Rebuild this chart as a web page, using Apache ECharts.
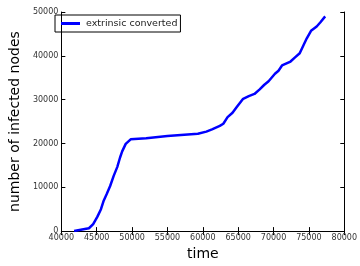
<!DOCTYPE html>
<html>
<head>
<meta charset="utf-8">
<script src="https://cdn.jsdelivr.net/npm/echarts@6/dist/echarts.min.js"></script>
<style>
html, body { margin: 0; padding: 0; background: #fff; }
#chart { width: 360px; height: 266px; }
</style>
</head>
<body>
<div id="chart"></div>
<script>
// time values (x) and infected node counts (y)
var times = [41800, 43900, 44500, 45100, 45600, 46000, 46400, 46900, 47400, 47900,
    48300, 48600, 49100, 49800, 52000, 55000, 59300, 60500, 61300, 62400,
    62900, 63500, 64200, 64800, 65700, 66500, 67300, 68000, 68700, 69300,
    70200, 70700, 71200, 72400, 73000, 73700, 74200, 74700, 75300, 76100,
    76600, 77300];
var infected = [0, 650, 1600, 3300, 5000, 7000, 8400, 10300, 12600, 14600,
    16800, 18200, 19900, 20950, 21200, 21700, 22200, 22700, 23200, 24000,
    24500, 26000, 27000, 28300, 30200, 30800, 31300, 32300, 33400, 34200,
    35900, 36600, 37800, 38700, 39600, 40600, 42300, 44000, 45700, 46700,
    47600, 49000];
var seriesName = 'extrinsic converted';

var myChart = echarts.init(document.getElementById('chart'));

var pts = [];
for (var i = 0; i < times.length; i++) {
    pts.push([times[i], infected[i]]);
}

var fontFam = '"DejaVu Sans", sans-serif';
var tickStyle = { show: true, inside: true, length: 4, lineStyle: { color: '#000', width: 1 } };
var lineStyle = { show: true, lineStyle: { color: '#000', width: 1 } };
var plain = function (v) { return String(v); };

option = {
    animation: false,
    textStyle: { fontFamily: fontFam },
    grid: { left: 50, right: 12, top: 12, bottom: 24 },
    legend: {
        left: 55,
        top: 15,
        padding: [3, 3, 3, 6],
        borderColor: '#000',
        borderWidth: 1,
        itemWidth: 19,
        itemHeight: 3,
        itemGap: 5,
        icon: 'rect',
        textStyle: { fontSize: 9.5, lineHeight: 11, color: '#222', fontFamily: fontFam, padding: [0, 0, 0, 1] },
        data: [seriesName]
    },
    xAxis: [
        {
            type: 'value', min: 40000, max: 80000, interval: 5000,
            name: 'time', nameLocation: 'middle', nameGap: 15,
            nameTextStyle: { fontSize: 14, color: '#000', fontFamily: fontFam },
            axisLine: lineStyle, axisTick: tickStyle,
            axisLabel: { fontSize: 8, color: '#333', margin: 3, fontFamily: fontFam, formatter: plain },
            splitLine: { show: false }
        },
        {
            type: 'value', position: 'top', min: 40000, max: 80000, interval: 5000,
            axisLine: lineStyle, axisTick: tickStyle,
            axisLabel: { show: false }, splitLine: { show: false }
        }
    ],
    yAxis: [
        {
            type: 'value', min: 0, max: 50000, interval: 10000,
            name: 'number of infected nodes', nameLocation: 'middle', nameGap: 36,
            nameTextStyle: { fontSize: 14, color: '#000', fontFamily: fontFam },
            axisLine: lineStyle, axisTick: tickStyle,
            axisLabel: { fontSize: 8, color: '#333', margin: 3, fontFamily: fontFam, formatter: plain },
            splitLine: { show: false }
        },
        {
            type: 'value', position: 'right', min: 0, max: 50000, interval: 10000,
            axisLine: lineStyle, axisTick: tickStyle,
            axisLabel: { show: false }, splitLine: { show: false }
        }
    ],
    series: [
        {
            name: seriesName,
            type: 'line',
            data: pts,
            showSymbol: false,
            itemStyle: { color: '#0000ff' },
            lineStyle: { color: '#0000ff', width: 2.5 }
        }
    ]
};

myChart.setOption(option);
</script>
</body>
</html>
